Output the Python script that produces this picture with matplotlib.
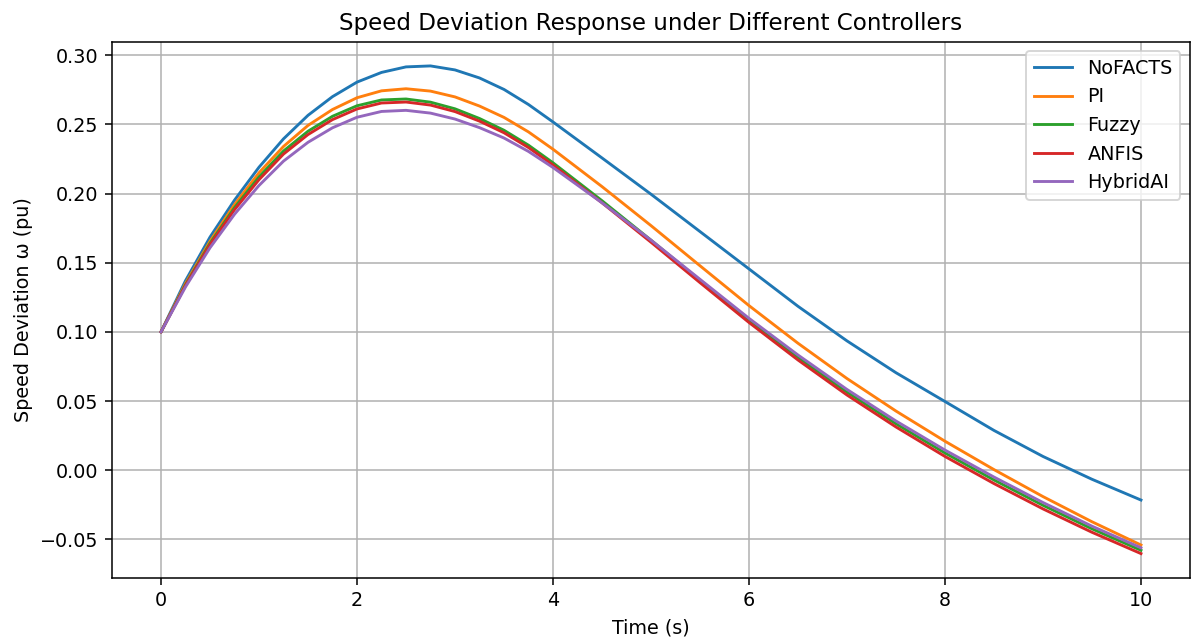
import matplotlib
matplotlib.use("Agg")
import matplotlib.pyplot as plt

# time axis (s) - finer steps where the curves bend the most
time_s = [0.0, 0.25, 0.5, 0.75, 1.0, 1.25, 1.5, 1.75, 2.0, 2.25, 2.5, 2.75,
          3.0, 3.25, 3.5, 3.75, 4.0, 4.5, 5.0, 5.5, 6.0, 6.5, 7.0, 7.5,
          8.0, 8.5, 9.0, 9.5, 10.0]

# speed deviation (pu)
no_facts = [0.1000, 0.1370, 0.1685, 0.1952, 0.2190, 0.2395, 0.2565, 0.2700,
            0.2805, 0.2875, 0.2915, 0.2922, 0.2893, 0.2835, 0.2752, 0.2643,
            0.2517, 0.2257, 0.1995, 0.1725, 0.1455, 0.1185, 0.0935, 0.0705,
            0.0497, 0.0288, 0.0100, -0.0065, -0.0215]
pi_ctrl = [0.1000, 0.1350, 0.1655, 0.1920, 0.2150, 0.2340, 0.2492, 0.2607,
           0.2692, 0.2742, 0.2757, 0.2740, 0.2698, 0.2632, 0.2550, 0.2445,
           0.2320, 0.2050, 0.1768, 0.1478, 0.1190, 0.0918, 0.0663, 0.0428,
           0.0210, 0.0005, -0.0190, -0.0372, -0.0540]
fuzzy = [0.1000, 0.1340, 0.1640, 0.1898, 0.2120, 0.2307, 0.2450, 0.2558,
         0.2634, 0.2676, 0.2683, 0.2660, 0.2612, 0.2542, 0.2457, 0.2349,
         0.2222, 0.1948, 0.1663, 0.1372, 0.1085, 0.0816, 0.0565, 0.0336,
         0.0125, -0.0070, -0.0253, -0.0423, -0.0578]
anfis = [0.1000, 0.1335, 0.1630, 0.1883, 0.2100, 0.2285, 0.2426, 0.2534,
         0.2611, 0.2654, 0.2661, 0.2639, 0.2592, 0.2523, 0.2439, 0.2332,
         0.2206, 0.1933, 0.1648, 0.1356, 0.1068, 0.0797, 0.0544, 0.0313,
         0.0100, -0.0096, -0.0279, -0.0448, -0.0602]
hybrid_ai = [0.1000, 0.1325, 0.1608, 0.1850, 0.2058, 0.2234, 0.2370, 0.2475,
             0.2551, 0.2593, 0.2601, 0.2581, 0.2538, 0.2476, 0.2401, 0.2304,
             0.2188, 0.1933, 0.1663, 0.1380, 0.1098, 0.0833, 0.0584, 0.0356,
             0.0146, -0.0049, -0.0233, -0.0404, -0.0560]

series = [("NoFACTS", no_facts), ("PI", pi_ctrl), ("Fuzzy", fuzzy),
          ("ANFIS", anfis), ("HybridAI", hybrid_ai)]

# reference looks like a default-styled figure rendered at a higher dpi
DPI = 138
fig = plt.figure(figsize=(1198 / DPI, 639 / DPI), dpi=DPI)
ax = fig.add_axes([0.0935, 0.0955, 0.8998, 0.8395])

for name, vals in series:
    ax.plot(time_s, vals, label=name)

ax.set_title("Speed Deviation Response under Different Controllers")
ax.set_xlabel("Time (s)")
ax.set_ylabel("Speed Deviation ω (pu)")
ax.grid(True)
ax.legend(loc="upper right")

fig.savefig("out.png", dpi=DPI)
